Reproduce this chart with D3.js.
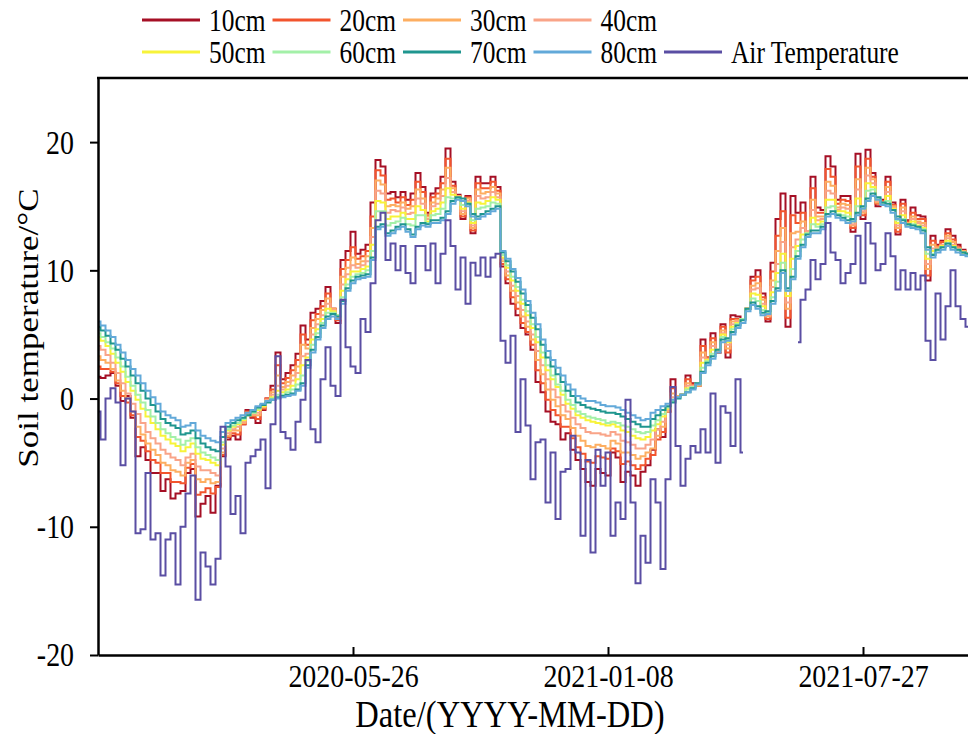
<!DOCTYPE html>
<html><head><meta charset="utf-8">
<script src="https://cdn.jsdelivr.net/npm/d3@7"></script>
<style>
body{margin:0;background:#fff}
svg{display:block}
text{font-family:"Liberation Serif","Times New Roman",serif;fill:#000}
</style>
</head><body><svg id="c" width="968" height="734"></svg>
<script>
// ---- data ----
const xTickIndex = [51, 102, 153];
const xTickLabels = ["2020-05-26", "2021-01-08", "2021-07-27"];
const yTicks = [-20, -10, 0, 10, 20];
const seriesNames = ["10cm","20cm","30cm","40cm","50cm","60cm","70cm","80cm","Air Temperature"];
const seriesColors = ["#a50f25","#f2542d","#fdae61","#f9a488","#f7f33a","#a3f0a8","#1f968f","#62a9d9","#5a4ea3"];

const s10 = [1.7,1.6,1.8,2.0,1.0,-0.2,0.2,-1.5,-4.5,-3.8,-4.8,-5.8,-5.8,-7.2,-6.3,-7.8,-7.4,-7.2,-5.8,-5.5,-9.2,-8.2,-7.6,-8.9,-6.8,-4.5,-3.2,
 -2.9,-3.2,-2.0,-0.9,-1.5,-1.9,-0.9,0.0,1.0,3.6,1.5,2.0,2.6,3.5,
 5.7,4.6,6.7,7.0,7.6,8.7,7.0,5.9,10.8,11.5,13.0,11.3,11.6,12.0,15.3,
 18.6,18.1,16.0,16.1,15.7,16.1,15.5,16.0,17.6,16.5,14.5,16.0,16.4,17.3,19.5,16.9,15.9,14.0,15.8,12.9,17.3,16.8,16.8,17.3,16.5,
 10.3,9.0,7.4,6.5,5.5,5.0,3.8,1.3,0.5,-1.0,-1.8,-2.0,-3.2,-2.7,-4.0,-4.8,-5.5,-6.5,-6.8,-5.5,-5.8,-6.0,-4.2,-4.6,-6.5,-5.7,-6.0,-6.8,-5.7,-5.2,
 -4.0,-2.4,-3.0,-1.0,1.5,0.2,0.3,1.8,1.2,1.0,4.6,3.2,5.1,3.6,5.8,3.2,6.5,6.4,6.2,7.0,9.5,10.0,8.2,6.0,10.6,14.0,16.0,5.6,15.8,14.5,
 15.3,13.0,17.3,14.9,14.7,18.9,18.1,15.5,15.8,15.8,13.0,19.1,14.0,19.4,17.6,15.0,15.5,17.3,15.3,12.8,15.5,13.9,14.9,14.3,14.2,9.2,12.7,12.0,12.3,13.2,12.7,12.0,11.6,11.3];

const s20 = [2.5,2.3,2.3,2.1,1.2,0.2,-0.3,-1.3,-3.0,-3.3,-4.1,-4.8,-5.0,-5.8,-5.8,-6.5,-6.5,-6.6,-5.4,-5.1,-7.5,-7.3,-7.0,-7.4,-6.9,-4.4,-3.0,
 -2.7,-2.8,-2.0,-1.0,-1.4,-1.6,-0.8,0.0,0.7,2.6,1.2,1.6,2.2,3.0,
 5.0,4.2,6.1,6.6,7.2,8.2,7.0,6.1,10.1,10.8,11.8,10.9,11.1,11.5,14.2,
 17.8,17.4,15.5,15.6,15.3,15.7,15.1,15.5,16.9,16.1,14.3,15.7,16.0,16.8,18.7,16.6,15.8,14.2,15.7,13.1,16.8,16.4,16.4,16.9,16.2,
 10.5,9.3,7.9,7.0,5.9,5.2,4.2,2.2,1.2,-0.1,-0.9,-1.3,-2.2,-2.2,-3.1,-3.8,-4.3,-4.9,-5.0,-4.5,-4.6,-4.7,-3.9,-4.1,-5.1,-4.9,-5.2,-5.5,-5.2,-4.7,
 -4.4,-3.2,-2.6,-1.0,0.8,0.2,0.3,1.5,1.1,1.0,4.1,3.2,4.7,3.6,5.6,3.6,6.2,6.2,6.2,7.0,9.2,9.5,7.9,6.2,9.9,12.7,14.6,6.3,14.3,13.7,
 14.5,13.0,16.4,14.5,14.5,17.9,17.3,15.2,15.5,15.4,13.3,18.1,14.3,18.7,17.3,15.2,15.4,16.9,15.1,13.0,15.2,13.8,14.5,14.0,14.0,9.6,12.3,11.9,12.2,12.9,12.4,11.8,11.5,11.3];

const s30 = [3.3,3.0,2.8,2.3,1.4,0.6,0.0,-1.0,-2.2,-2.8,-3.5,-4.0,-4.4,-5.0,-5.2,-5.6,-5.7,-6.0,-5.0,-4.8,-6.3,-6.5,-6.3,-6.6,-6.5,-4.2,-2.9,
 -2.5,-2.5,-1.9,-1.1,-1.3,-1.3,-0.7,-0.1,0.5,1.8,0.9,1.3,1.8,2.5,
 4.2,3.9,5.5,6.2,6.9,7.8,7.0,6.2,9.5,10.2,11.0,10.5,10.7,11.1,13.3,
 17.0,16.7,15.0,15.1,15.0,15.3,14.8,15.0,16.3,15.6,14.2,15.3,15.6,16.3,18.0,16.4,15.8,14.4,15.6,13.3,16.3,16.0,16.1,16.5,16.0,
 10.7,9.6,8.4,7.5,6.4,5.6,4.6,3.0,1.9,0.7,-0.1,-0.6,-1.3,-1.6,-2.3,-2.9,-3.3,-3.7,-3.8,-3.6,-3.7,-3.9,-3.3,-3.5,-4.2,-4.2,-4.4,-4.7,-4.5,-4.2,
 -3.9,-2.9,-2.2,-1.0,0.4,0.2,0.3,1.2,1.0,1.0,3.6,3.1,4.4,3.7,5.3,3.9,6.0,6.1,6.2,7.0,8.8,9.0,7.7,6.4,9.2,11.5,13.3,7.0,12.9,13.0,
 13.8,13.0,15.5,14.2,14.2,16.9,16.6,14.9,15.2,15.1,13.5,17.1,14.5,18.0,17.1,15.3,15.3,16.5,15.0,13.3,14.9,13.7,14.2,13.8,13.7,10.1,12.0,11.8,12.0,12.7,12.2,11.7,11.5,11.2];

const s40 = [4.1,3.8,3.4,2.8,2.0,1.2,0.4,-0.4,-1.2,-1.9,-2.6,-3.1,-3.5,-4.0,-4.3,-4.6,-4.8,-5.2,-4.6,-4.3,-5.3,-5.6,-5.6,-5.8,-6.0,-3.9,-2.7,
 -2.4,-2.2,-1.8,-1.2,-1.2,-1.1,-0.6,-0.1,0.3,1.0,0.7,1.0,1.4,2.0,
 3.3,3.5,5.0,5.8,6.5,7.4,6.9,6.3,8.9,9.7,10.4,10.2,10.4,10.7,12.6,
 16.2,16.0,14.5,14.7,14.6,14.9,14.4,14.5,15.6,15.2,14.0,15.0,15.2,15.8,17.2,16.1,15.7,14.6,15.4,13.5,15.8,15.6,15.7,16.1,15.7,
 10.9,9.9,8.8,8.0,6.9,6.0,5.0,3.7,2.6,1.5,0.7,0.1,-0.5,-1.0,-1.5,-2.0,-2.3,-2.6,-2.7,-2.7,-2.8,-2.9,-2.6,-2.8,-3.3,-3.4,-3.6,-3.9,-3.9,-3.6,
 -3.2,-2.4,-1.8,-0.9,0.1,0.1,0.3,1.0,1.0,1.1,3.2,3.0,4.1,3.7,5.1,4.2,5.8,6.0,6.2,7.0,8.5,8.6,7.4,6.5,8.7,10.5,12.2,7.5,11.8,12.4,
 13.3,13.0,14.7,13.9,14.0,16.2,16.0,14.7,14.9,14.8,13.6,16.3,14.6,17.4,16.8,15.4,15.3,16.1,14.9,13.5,14.6,13.6,14.0,13.7,13.5,10.5,11.7,11.7,12.0,12.5,12.0,11.7,11.4,11.2];

const s50 = [4.8,4.5,4.1,3.5,2.8,2.1,1.3,0.6,-0.1,-0.8,-1.4,-1.9,-2.4,-2.9,-3.2,-3.5,-3.7,-4.1,-3.8,-3.5,-4.3,-4.7,-4.8,-5.0,-5.2,-3.6,-2.5,
 -2.2,-2.0,-1.7,-1.3,-1.1,-0.9,-0.6,-0.2,0.1,0.6,0.5,0.7,1.0,1.5,
 2.6,3.2,4.6,5.4,6.2,7.0,6.8,6.5,8.4,9.3,9.9,9.9,10.1,10.3,12.0,
 15.4,15.3,14.0,14.2,14.2,14.5,14.0,14.0,15.0,14.7,13.8,14.6,14.8,15.3,16.4,15.9,15.7,14.8,15.3,13.7,15.3,15.2,15.4,15.7,15.5,
 11.0,10.2,9.2,8.4,7.4,6.5,5.5,4.4,3.2,2.2,1.5,0.9,0.3,-0.4,-0.8,-1.3,-1.5,-1.7,-1.8,-1.9,-2.0,-2.1,-2.0,-2.2,-2.5,-2.6,-2.9,-3.1,-3.2,-3.0,
 -2.5,-2.0,-1.4,-0.8,-0.1,0.1,0.3,0.8,0.9,1.1,2.8,3.0,3.8,3.8,5.0,4.4,5.6,5.9,6.2,7.0,8.2,8.1,7.2,6.6,8.3,9.8,11.3,8.0,10.9,11.9,
 12.8,12.9,14.1,13.6,13.8,15.5,15.5,14.6,14.6,14.5,13.8,15.6,14.8,16.8,16.5,15.5,15.2,15.8,14.8,13.7,14.3,13.6,13.8,13.5,13.3,10.9,11.5,11.6,11.9,12.3,11.9,11.6,11.4,11.2];

const s60 = [5.1,4.8,4.4,3.9,3.2,2.5,1.7,1.0,0.3,-0.3,-0.9,-1.4,-1.9,-2.4,-2.7,-3.0,-3.2,-3.6,-3.3,-3.1,-3.8,-4.2,-4.4,-4.6,-4.8,-3.4,-2.4,
 -2.1,-1.9,-1.6,-1.3,-1.1,-0.8,-0.5,-0.2,0.0,0.3,0.3,0.5,0.7,1.1,
 1.8,2.9,4.2,5.1,5.9,6.7,6.7,6.5,7.9,8.9,9.5,9.7,9.8,10.0,11.5,
 14.6,14.6,13.5,13.7,13.8,14.1,13.6,13.5,14.3,14.3,13.7,14.3,14.4,14.8,15.7,15.6,15.6,15.1,15.2,13.9,14.8,14.9,15.0,15.3,15.2,
 11.2,10.4,9.5,8.7,7.7,6.8,5.8,4.8,3.6,2.6,1.8,1.1,0.6,-0.1,-0.5,-1.0,-1.2,-1.4,-1.5,-1.6,-1.7,-1.9,-1.8,-1.9,-2.1,-2.2,-2.4,-2.6,-2.7,-2.6,
 -2.1,-1.7,-1.2,-0.7,-0.2,0.1,0.3,0.7,0.9,1.2,2.4,2.9,3.5,3.8,4.8,4.6,5.4,5.8,6.2,7.0,7.8,7.6,6.9,6.7,7.9,9.1,10.6,8.4,10.1,11.5,
 12.4,12.9,13.6,13.4,13.6,14.9,15.0,14.4,14.3,14.2,13.9,15.0,14.9,16.2,16.3,15.6,15.2,15.4,14.7,13.9,14.0,13.5,13.6,13.4,13.2,11.3,11.3,11.6,11.8,12.1,11.8,11.6,11.4,11.2];

const s70 = [5.6,5.3,4.9,4.3,3.8,3.1,2.5,1.8,1.2,0.6,0.0,-0.5,-1.0,-1.6,-1.9,-2.1,-2.3,-2.8,-2.7,-2.5,-3.1,-3.5,-3.8,-4.0,-4.1,-3.0,-2.2,
 -1.9,-1.7,-1.5,-1.3,-1.0,-0.7,-0.5,-0.3,-0.1,0.1,0.2,0.3,0.4,0.7,
 1.2,2.6,3.8,4.8,5.7,6.4,6.6,6.4,7.6,8.6,9.2,9.5,9.6,9.7,11.0,
 13.4,13.6,12.9,13.1,13.4,13.6,13.2,12.8,13.4,13.7,13.6,13.9,13.9,14.1,14.6,15.4,15.7,15.6,15.2,14.4,14.2,14.4,14.6,14.8,15.0,
 11.4,10.7,9.9,9.1,8.2,7.3,6.3,5.4,4.2,3.2,2.5,1.9,1.3,0.6,0.2,-0.3,-0.5,-0.7,-0.8,-0.9,-1.0,-1.1,-1.1,-1.2,-1.4,-1.6,-1.8,-2.0,-2.2,-2.2,
 -1.6,-1.3,-0.9,-0.6,-0.3,0.0,0.3,0.5,0.8,1.2,2.1,2.8,3.3,3.8,4.6,4.7,5.2,5.7,6.1,7.0,7.5,7.2,6.7,6.8,7.6,8.6,10.0,8.6,9.5,11.1,
 12.0,12.8,13.1,13.1,13.4,14.4,14.6,14.3,14.1,13.9,14.0,14.5,15.0,15.6,16.0,15.7,15.3,15.2,14.7,14.2,13.9,13.6,13.5,13.4,13.1,11.8,11.2,11.6,11.8,12.1,11.8,11.6,11.4,11.3];

const s80 = [6.0,5.7,5.3,4.8,4.2,3.6,3.0,2.3,1.8,1.2,0.6,0.1,-0.4,-1.0,-1.3,-1.5,-1.7,-2.2,-2.1,-1.9,-2.5,-2.9,-3.1,-3.3,-3.4,-2.6,-1.9,
 -1.7,-1.5,-1.3,-1.1,-0.9,-0.6,-0.4,-0.2,-0.1,0.0,0.1,0.2,0.3,0.6,
 1.0,2.4,3.6,4.6,5.5,6.2,6.4,6.2,7.4,8.4,9.0,9.3,9.4,9.5,10.8,
 13.2,13.4,12.7,12.9,13.2,13.4,13.0,12.6,13.2,13.5,13.4,13.7,13.7,13.9,14.4,15.2,15.5,15.4,15.0,14.2,14.0,14.2,14.4,14.6,14.8,
 11.5,10.9,10.1,9.4,8.5,7.6,6.7,5.8,4.6,3.7,3.0,2.4,1.8,1.1,0.7,0.2,0.0,-0.2,-0.2,-0.3,-0.5,-0.6,-0.6,-0.7,-0.9,-1.1,-1.3,-1.5,-1.7,-1.6,
 -1.1,-0.9,-0.6,-0.4,-0.1,0.1,0.3,0.5,0.7,1.1,2.0,2.6,3.1,3.6,4.4,4.5,5.0,5.5,5.9,6.8,7.3,7.0,6.5,6.6,7.4,8.4,9.8,8.4,9.3,10.9,
 11.8,12.6,12.9,12.9,13.2,14.2,14.4,14.1,13.9,13.7,13.8,14.3,14.8,15.4,15.8,15.5,15.1,15.0,14.5,14.0,13.7,13.4,13.3,13.2,12.9,11.6,11.0,11.4,11.6,11.9,11.6,11.4,11.2,11.1];

const airTemp = [-1.0,-3.2,0.0,0.8,-0.3,-5.2,0.0,-1.0,-10.5,-10.2,-5.8,-11.0,-10.5,-13.8,-11.0,-10.5,-14.5,-10.0,-7.4,-6.0,-15.7,-12.0,-13.1,-14.5,-12.5,-2.2,-5.3,
 -9.0,-7.6,-10.5,-5.0,-4.5,-4.0,-3.2,-7.0,-2.0,3.3,-2.6,-3.1,-4.0,-1.8,
 -0.1,3.0,-2.4,-3.4,1.5,4.0,1.0,0.2,7.7,4.0,2.5,2.0,6.2,5.2,9.0,
 13.9,14.5,10.8,12.1,10.0,11.9,9.8,9.0,11.9,11.9,10.0,12.1,9.0,11.3,13.9,11.9,8.5,11.0,7.4,10.6,9.6,11.0,9.5,11.0,11.3,
 4.5,2.8,4.9,-2.6,1.5,-2.1,-6.3,-3.4,-3.2,-8.1,-4.2,-9.4,-5.7,-5.5,-2.9,-4.2,-10.7,-4.8,-12.0,-4.0,-6.8,-4.2,-10.7,-8.1,-9.4,-0.1,-8.1,-14.4,-10.7,-12.8,
 -6.3,-8.1,-13.3,-6.3,0.9,-3.7,-6.8,-4.7,-3.7,-4.2,-2.4,-4.2,0.4,-5.0,-0.6,-1.1,-3.7,1.5,-4.2,
 null,null,null,null,null,null,null,null,null,null,
 4.4,7.7,8.5,10.8,9.3,10.5,13.7,11.4,10.8,9.0,9.8,10.5,12.7,9.0,13.7,12.1,10.0,10.5,12.9,11.1,8.5,10.0,8.5,9.8,8.5,9.6,4.5,3.0,8.2,4.6,7.2,10.0,7.2,6.2,5.6];

const seriesValues = [s10, s20, s30, s40, s50, s60, s70, s80, airTemp];

// ---- layout ----
const W = 968, H = 734;
const plot = {left: 98, right: 968, top: 78, bottom: 655};
const squeeze = 0.82; // glyphs in the reference are horizontally condensed
const svg = d3.select("#c");
svg.append("rect").attr("width", W).attr("height", H).attr("fill", "#fff");

function condense(sel, factor) {
  sel.each(function () {
    const n = this.getComputedTextLength();
    d3.select(this).attr("textLength", n * (factor || squeeze)).attr("lengthAdjust", "spacingAndGlyphs");
  });
}

const x = d3.scaleLinear().domain([0, 174]).range([plot.left, plot.right]);
const y = d3.scaleLinear().domain([-20, 25]).range([plot.bottom, plot.top]);

svg.append("defs").append("clipPath").attr("id", "clip")
  .append("rect").attr("x", plot.left).attr("y", plot.top)
  .attr("width", plot.right - plot.left).attr("height", plot.bottom - plot.top);

const line = d3.line()
  .defined(d => d != null)
  .x((d, i) => x(i))
  .y(d => y(d))
  .curve(d3.curveStep);

const g = svg.append("g").attr("clip-path", "url(#clip)");
seriesValues.forEach((vals, k) => {
  g.append("path")
    .datum(vals)
    .attr("fill", "none")
    .attr("stroke", seriesColors[k])
    .attr("stroke-width", 2)
    .attr("stroke-linejoin", "miter")
    .attr("d", line);
});

// axes
const yAxis = d3.axisLeft(y).tickValues(yTicks).tickFormat(d => String(d))
  .tickSizeInner(8).tickSizeOuter(0).tickPadding(16);
const ya = svg.append("g").attr("transform", `translate(${plot.left},0)`).call(yAxis);
ya.select(".domain").attr("stroke-width", 2.5);
ya.selectAll(".tick line").attr("stroke-width", 2);
ya.selectAll(".tick text").style("font-size", "34px").style("font-family", '"Liberation Serif", serif').call(condense);

const xAxis = d3.axisBottom(x).tickValues(xTickIndex)
  .tickFormat((d, i) => xTickLabels[i]).tickSizeInner(-8).tickSizeOuter(0).tickPadding(10);
const xa = svg.append("g").attr("transform", `translate(0,${plot.bottom})`).call(xAxis);
xa.select(".domain").attr("stroke-width", 2.5);
xa.selectAll(".tick line").attr("stroke-width", 2);
xa.selectAll(".tick text").style("font-size", "31px").style("font-family", '"Liberation Serif", serif').call(condense, 0.9);

// top frame
svg.append("line").attr("x1", plot.left - 1).attr("x2", W).attr("y1", plot.top).attr("y2", plot.top)
  .attr("stroke", "#000").attr("stroke-width", 2.5);

// titles
svg.append("text").attr("x", 510).attr("y", 727).attr("text-anchor", "middle")
  .style("font-size", "37px").text("Date/(YYYY-MM-DD)").call(condense, 0.88);
svg.append("text").attr("transform", `translate(38,328) scale(${squeeze},1) rotate(-90)`).attr("text-anchor", "middle")
  .style("font-size", "35px").text("Soil temperature/°C");

// legend
const leg = svg.append("g");
seriesNames.forEach((name, k) => {
  const row = k < 4 ? 0 : 1;
  const col = k < 4 ? k : k - 4;
  const lx = 142 + col * 130.5;
  const ly = 20 + row * 32;
  leg.append("line").attr("x1", lx).attr("x2", lx + 58).attr("y1", ly).attr("y2", ly)
    .attr("stroke", seriesColors[k]).attr("stroke-width", 3);
  leg.append("text").attr("x", lx + 67).attr("y", ly).attr("dy", "0.34em")
    .style("font-size", "31px").text(name).call(condense);
});
</script>
</body></html>
